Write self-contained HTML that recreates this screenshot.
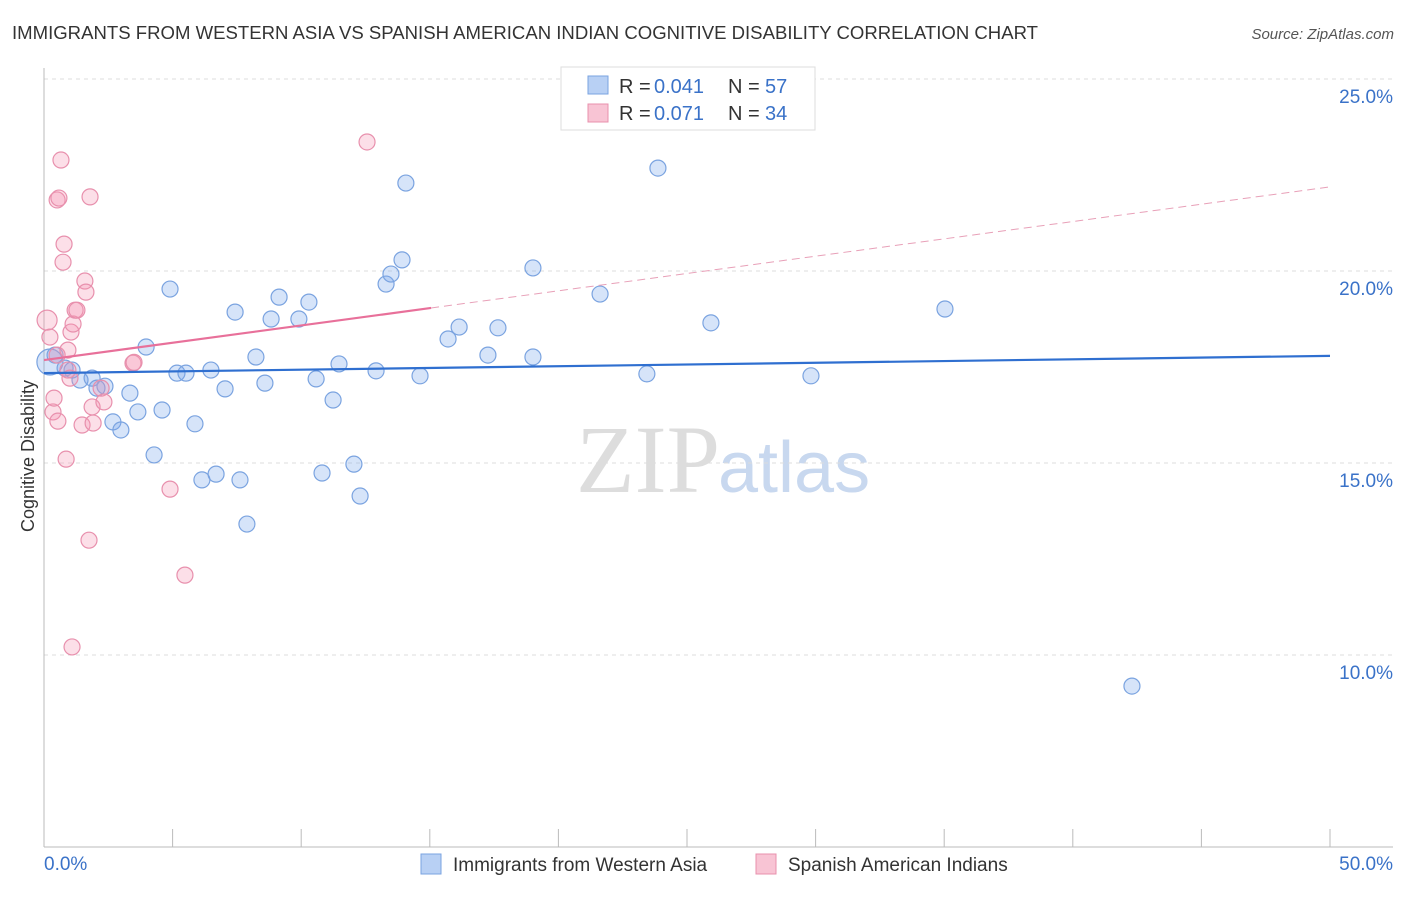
<!DOCTYPE html>
<html><head><meta charset="utf-8"><style>
body{margin:0;background:#fff;width:1406px;height:892px;overflow:hidden;font-family:"Liberation Sans",sans-serif}
</style></head><body>
<svg id="c" width="1406" height="892" xmlns="http://www.w3.org/2000/svg">
<text x="12" y="39" font-size="18" fill="#333" textLength="1026" lengthAdjust="spacingAndGlyphs">IMMIGRANTS FROM WESTERN ASIA VS SPANISH AMERICAN INDIAN COGNITIVE DISABILITY CORRELATION CHART</text>
<text x="1394" y="39" font-size="15" fill="#555" font-style="italic" text-anchor="end">Source: ZipAtlas.com</text>
<text x="34" y="456" font-size="18" fill="#333" text-anchor="middle" transform="rotate(-90 34 456)">Cognitive Disability</text>
<text x="720" y="492" font-size="96" fill="#ddd" font-family="Liberation Serif,serif" text-anchor="end">ZIP</text>
<text x="718" y="492" font-size="72" fill="#c8d8ef">atlas</text>
<g id="grid"></g><g id="pts"></g><g id="trend"></g>
<g>
<rect x="561" y="67" width="254" height="63" fill="#fff" stroke="#ddd"/>
<rect x="588" y="76" width="20" height="18" fill="#b8d0f4" stroke="#7aa3e0"/>
<text y="93" font-size="20" fill="#333"><tspan x="619">R =</tspan><tspan x="654" fill="#3a72c8">0.041</tspan><tspan x="728">N =</tspan><tspan x="765" fill="#3a72c8">57</tspan></text>
<rect x="588" y="104" width="20" height="18" fill="#f8c4d4" stroke="#e890ad"/>
<text y="120" font-size="20" fill="#333"><tspan x="619">R =</tspan><tspan x="654" fill="#3a72c8">0.071</tspan><tspan x="728">N =</tspan><tspan x="765" fill="#3a72c8">34</tspan></text>
</g>
<g>
<rect x="421" y="854" width="20" height="20" fill="#b8d0f4" stroke="#7aa3e0"/>
<text x="453" y="871" font-size="19" fill="#333">Immigrants from Western Asia</text>
<rect x="756" y="854" width="20" height="20" fill="#f8c4d4" stroke="#e890ad"/>
<text x="788" y="871" font-size="19" fill="#333">Spanish American Indians</text>
</g>
<text x="44" y="870" font-size="19" fill="#3a72c8">0.0%</text>
<text x="1393" y="870" font-size="19" fill="#3a72c8" text-anchor="end">50.0%</text>
</svg>
<script>
const blueX=[0.23,0.43,0.82,1.09,1.40,1.87,2.06,2.37,2.68,2.99,3.34,3.65,3.97,4.28,4.59,4.90,5.17,5.52,5.87,6.14,6.49,6.69,7.04,7.43,7.62,7.89,8.24,8.59,8.83,9.14,9.91,10.30,10.58,10.81,11.24,11.47,12.05,12.29,12.91,13.30,13.49,13.92,14.07,14.62,15.71,16.14,17.26,17.65,19.01,19.01,21.62,23.44,23.87,25.93,29.82,35.03,42.30];
const blueY=[17.63,17.81,17.47,17.42,17.16,17.21,16.95,17.0,16.07,15.86,16.82,16.33,18.02,15.21,16.38,19.53,17.34,17.34,16.02,14.56,17.42,14.71,16.93,18.93,14.56,13.41,17.76,17.08,18.75,19.32,18.75,19.19,17.19,14.74,16.64,17.58,14.97,14.14,17.40,19.66,19.92,20.29,22.29,17.27,18.23,18.54,17.81,18.52,20.08,17.76,19.40,17.32,22.68,18.65,17.27,19.01,9.19];
const pinkX=[0.12,0.23,0.35,0.39,0.51,0.54,0.66,0.51,0.58,0.78,0.74,0.86,0.93,0.93,1.01,1.05,1.13,1.09,1.21,1.28,1.48,1.59,1.63,1.75,1.79,1.87,1.91,2.22,2.33,3.46,3.50,4.90,5.48,12.56];
const pinkY=[18.72,18.28,16.33,16.69,17.81,16.09,22.89,21.85,21.90,20.70,20.23,15.10,17.94,17.42,17.21,18.41,18.62,10.21,18.98,18.98,15.99,19.74,19.45,12.99,21.93,16.46,16.04,16.95,16.59,17.60,17.62,14.32,12.08,23.36];
const yTicks=[25,20,15,10];
const blueTrend=[17.34,17.79];
const pinkTrend=[17.68,22.19];
const pinkSolidEnd=15.05;
const X=v=>44+v*25.72, Y=v=>79+(25-v)*38.4;
const NS="http://www.w3.org/2000/svg";
function mk(t,a,p){const e=document.createElementNS(NS,t);for(const k in a)e.setAttribute(k,a[k]);p.appendChild(e);return e;}
const g=document.getElementById('grid');
yTicks.forEach(t=>{
 const l=mk('line',{x1:44,x2:1393,y1:Y(t),y2:Y(t),stroke:'#ddd','stroke-dasharray':'4,4'},g);
 
 
 const tx=mk('text',{x:1393,y:Y(t)+24,'font-size':19,fill:'#3a72c8','text-anchor':'end'},g);
 tx.textContent=t.toFixed(1)+'%';
 
 
});
mk('line',{x1:44,x2:44,y1:68,y2:847,stroke:'#bbb'},g);
mk('line',{x1:44,x2:1393,y1:847,y2:847,stroke:'#bbb'},g);
for(let i=0;i<=10;i++){const t=mk('line',{x1:X(i*5),x2:X(i*5),y1:829,y2:847,stroke:'#bbb'},g);
 
 }
const p=document.getElementById('pts');
blueX.forEach((v,i)=>{const c=mk('circle',{cx:X(v),cy:Y(blueY[i]),r:i==0?13:8,fill:'rgba(120,165,235,0.3)',stroke:'#7aa3e0','stroke-width':1.2},p);
 
 });
pinkX.forEach((v,i)=>{const c=mk('circle',{cx:X(v),cy:Y(pinkY[i]),r:i==0?10:8,fill:'rgba(245,150,180,0.3)',stroke:'#e890ad','stroke-width':1.2},p);
 
 });
const tr=document.getElementById('trend');
const bl=mk('line',{x1:X(0),y1:Y(blueTrend[0]),x2:X(50),y2:Y(blueTrend[1]),stroke:'#2f6fd0','stroke-width':2.2},tr);


const py=x=>pinkTrend[0]+(pinkTrend[1]-pinkTrend[0])*x/50;
const ps=mk('line',{x1:X(0),y1:Y(py(0)),x2:X(pinkSolidEnd),y2:Y(py(pinkSolidEnd)),stroke:'#e8709a','stroke-width':2.2},tr);


const pd=mk('line',{x1:X(pinkSolidEnd),y1:Y(py(pinkSolidEnd)),x2:X(50),y2:Y(py(50)),stroke:'#e8a0b8','stroke-width':1,'stroke-dasharray':'8,5'},tr);


</script>
</body></html>
